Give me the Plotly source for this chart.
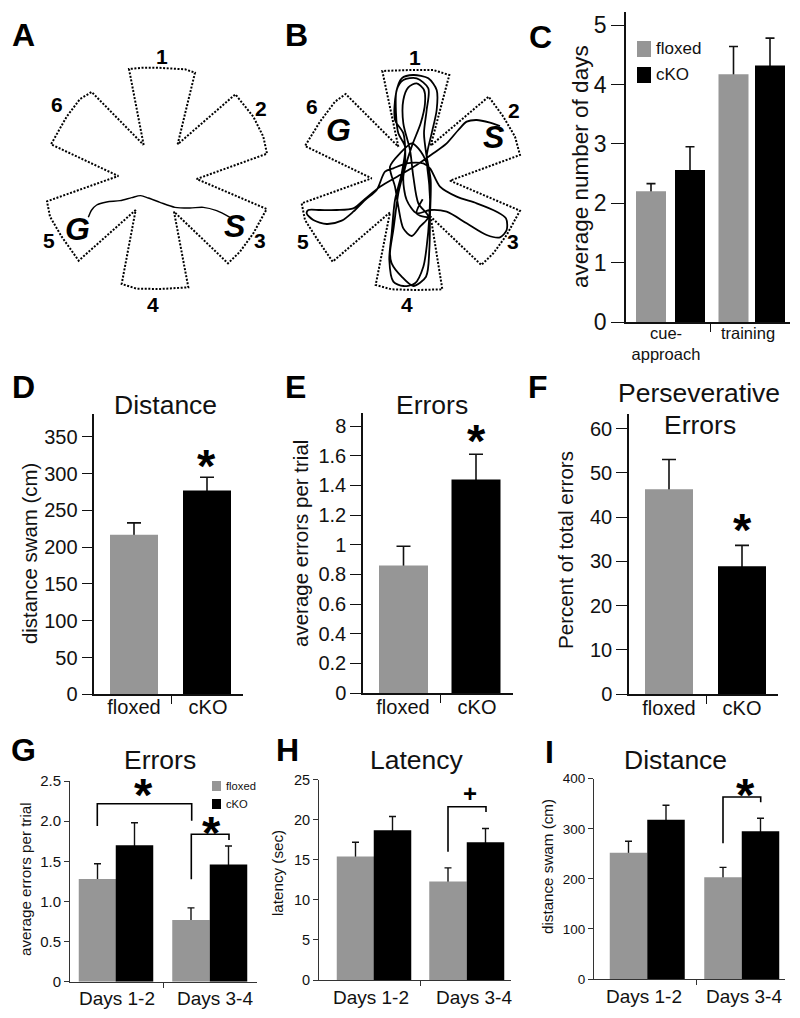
import plotly.graph_objects as go

W, H = 800, 1018
FONT = "Liberation Sans"
GREY = "#969696"
BLACK = "#000000"

# ---------- data: bar panels ----------
series_names = ["floxed", "cKO"]

c_labels = ["cue-<br>approach", "training"]
c_floxed = [2.20, 4.17]
c_floxed_top = [2.33, 4.64]
c_cko = [2.56, 4.32]
c_cko_top = [2.95, 4.78]
c_ticks = [0, 1, 2, 3, 4, 5]

d_labels = ["floxed", "cKO"]
d_values = [217, 277]
d_tops = [233, 295]
d_ticks = [0, 50, 100, 150, 200, 250, 300, 350]

e_labels = ["floxed", "cKO"]
e_values = [0.86, 1.44]
e_tops = [0.99, 1.61]
e_ticks = [0, 0.2, 0.4, 0.6, 0.8, 1.0, 1.2, 1.4, 1.6, 1.8]
e_ticktext = ["0", "0.2", "0.4", "0.6", "0.8", "1", "1.2", "1.4", "1.6", "8"]

f_labels = ["floxed", "cKO"]
f_values = [46.3, 28.9]
f_tops = [53.0, 33.6]
f_ticks = [0, 10, 20, 30, 40, 50, 60]

day_labels = ["Days 1-2", "Days 3-4"]
g_floxed = [1.28, 0.77]
g_floxed_top = [1.47, 0.92]
g_cko = [1.70, 1.46]
g_cko_top = [1.98, 1.69]
g_ticks = [0, 0.5, 1.0, 1.5, 2.0, 2.5]
g_ticktext = ["0", "0.5", "1.0", "1.5", "2.0", "2.5"]

h_floxed = [15.4, 12.3]
h_floxed_top = [17.2, 14.0]
h_cko = [18.7, 17.2]
h_cko_top = [20.4, 18.9]
h_ticks = [0, 5, 10, 15, 20, 25]

i_floxed = [252, 203]
i_floxed_top = [275, 223]
i_cko = [318, 295]
i_cko_top = [347, 321]
i_ticks = [0, 100, 200, 300, 400]

# ---------- data: maze outlines and swim paths (zoomed-crop readings) ----------
maze_a_x = [431,387,430,470,555,585,533,706,760,790,801,590,800,760,720,684,522,565,480,410,365,407,236,185,150,141,355,153,200,240,275,431]
maze_a_y = [435,207,203,203,208,218,433,283,350,410,461,537,627,700,755,790,635,862,867,866,852,630,782,710,650,604,528,433,350,297,276,435]
path_a_x = [265,275,290,320,360,395,422,445,480,525,570,610,650,690]
path_a_y = [652,630,615,606,602,593,587,594,607,622,624,622,632,652]

maze_b_x = [385,337,420,490,538,482,656,700,735,750,540,750,710,670,634,482,517,440,365,317,360,188,140,105,95,305,105,150,195,227,385]
maze_b_y = [440,213,210,210,225,437,290,350,410,465,542,632,705,760,795,650,868,870,868,855,637,785,715,660,610,535,438,365,305,282,440]
path_b_x = [690,660,620,590,565,530,490,440,390,330,285,250,200,150,115,110,130,170,215,250,285,320,345,370,410,460,480,510,560,620,680,708,710,690,650,590,530,480,440,410,400,425,452,465,462,440,415,400,400,420,430,445,475,450,425,400,385,375,360,390,425,445,470,480,478,470,460,435,400,370,358,365,375,395,405,385,378,380,400,440,475,470,462,470,482,480,478,468,430,395,365,360,370,385,405,400,375,378,395,430,475,500,500,485,470,478,476,440,458]
path_b_y = [378,368,360,365,390,430,460,495,525,560,597,625,630,630,630,640,660,672,662,635,600,570,515,505,490,490,505,560,590,610,635,655,690,712,705,670,635,630,640,600,530,440,370,310,270,250,262,300,370,450,530,610,650,680,708,685,620,560,500,460,430,445,490,560,650,740,800,850,858,845,780,700,600,520,440,400,340,270,240,235,265,330,400,470,540,650,750,830,858,830,790,760,690,580,490,400,360,280,235,225,235,270,330,400,470,560,650,640,598]

# ---------- layout configuration (pixel geometry of the page) ----------
panels = [
    dict(series=[(c_floxed, c_floxed_top, [651, 733.5]), (c_cko, c_cko_top, [690, 770])], bw=30, cap=4.5,
         left=626, right=790, bottom=322, top=12, ymax=5.22, ticks=c_ticks, text=None, labels=c_labels,
         label_x=[666, 748], mid=710, tlen=13, tfont=23, xfont=16.5, lw=1.5, color="#111", standoff=-5, mlen=8),
    dict(series=[(d_values[:1], d_tops[:1], [134]), (d_values[1:], d_tops[1:], [207])], bw=48, cap=7,
         left=94.3, right=243, bottom=694.3, top=414, ymax=381, ticks=d_ticks, text=None, labels=d_labels,
         label_x=[134, 208], mid=171, tlen=11, tfont=20, xfont=20, lw=1.5, color="#111", standoff=-6, mlen=8),
    dict(series=[(e_values[:1], e_tops[:1], [403.5]), (e_values[1:], e_tops[1:], [476])], bw=49, cap=7,
         left=363, right=513, bottom=693, top=412.7, ymax=1.89, ticks=e_ticks, text=e_ticktext, labels=e_labels,
         label_x=[403, 477], mid=440, tlen=11, tfont=20, xfont=20, lw=1.5, color="#111", standoff=-5, mlen=8),
    dict(series=[(f_values[:1], f_tops[:1], [669]), (f_values[1:], f_tops[1:], [742])], bw=48, cap=7,
         left=629, right=778, bottom=694, top=414, ymax=63.3, ticks=f_ticks, text=None, labels=f_labels,
         label_x=[669, 742], mid=706, tlen=11, tfont=20, xfont=20, lw=1.5, color="#111", standoff=-5, mlen=8),
    dict(series=[(g_floxed, g_floxed_top, [97.5, 191]), (g_cko, g_cko_top, [134.5, 228.5])], bw=37.5, cap=3.5,
         left=70, right=257, bottom=981.7, top=781, ymax=2.5, ticks=g_ticks, text=g_ticktext, labels=day_labels,
         label_x=[117, 215], mid=163, tlen=5, tfont=15, xfont=19, lw=1, color="#333", standoff=-1, mlen=5),
    dict(series=[(h_floxed, h_floxed_top, [355.5, 448]), (h_cko, h_cko_top, [392.5, 485.5])], bw=37.5, cap=3.5,
         left=319, right=511, bottom=980, top=779.7, ymax=25, ticks=h_ticks, text=None, labels=day_labels,
         label_x=[371, 474], mid=420, tlen=5, tfont=14.5, xfont=19, lw=1, color="#333", standoff=0, mlen=5),
    dict(series=[(i_floxed, i_floxed_top, [628.5, 723]), (i_cko, i_cko_top, [666, 760.5])], bw=37.5, cap=3.5,
         left=594, right=785, bottom=979, top=778.7, ymax=400, ticks=i_ticks, text=None, labels=day_labels,
         label_x=[644, 744], mid=696, tlen=5, tfont=13.5, xfont=19, lw=1, color="#333", standoff=0, mlen=5),
]

fig = go.Figure()

def zoom(vals, off, k=3.0):
    return [off + v / k for v in vals]

def page_line(xs, ys, width=1.5, dash="solid", spline=False):
    fig.add_trace(go.Scatter(x=xs, y=ys, mode="lines", showlegend=False, hoverinfo="skip",
                             line=dict(color="black", width=width, dash=dash,
                                       shape="spline" if spline else "linear", smoothing=0.8)))

DOT = "2px,1.6px"
page_line(zoom(maze_a_x, 0), zoom(maze_a_y, 0), 2, DOT)
page_line(zoom(path_a_x, 0), zoom(path_a_y, 0), 1.4, spline=True)
page_line(zoom(maze_b_x, 270), zoom(maze_b_y, 0), 2, DOT)
page_line(zoom(path_b_x, 270), zoom(path_b_y, 0), 1.8, spline=True)

brackets = [
    ([97.3, 97.3, 191.7, 191.7], [826, 803.7, 803.7, 820.7]),
    ([191.3, 191.3, 229, 229], [879.3, 834.3, 834.3, 840]),
    ([448, 448, 486, 486], [851.7, 806.7, 806.7, 812]),
    ([723, 723, 760.7, 760.7], [843.3, 797, 797, 802.3]),
]
for bx, by in brackets:
    page_line(bx, by, 1.6)

layout = dict(
    width=W, height=H, margin=dict(l=0, r=0, t=0, b=0), autosize=False,
    paper_bgcolor="white", plot_bgcolor="rgba(0,0,0,0)", barmode="overlay", showlegend=False,
    font=dict(family=FONT, color="#111"),
    xaxis=dict(domain=[0, 1], range=[0, W], visible=False, fixedrange=True, automargin=False),
    yaxis=dict(domain=[0, 1], range=[H, 0], visible=False, fixedrange=True, automargin=False),
)

colors = [GREY, BLACK]
for n, p in enumerate(panels, start=2):
    xname, yname = f"x{n}", f"y{n}"
    dip = p["ymax"] * 0.02
    for (vals, tops, centers), color, name in zip(p["series"], colors, series_names):
        # error whiskers belong to an unfilled bar underneath, so only the upper cap shows
        fig.add_trace(go.Bar(
            x=centers, y=vals, width=p["bw"], name=name + " sem", xaxis=xname, yaxis=yname,
            marker=dict(color="rgba(0,0,0,0)", line=dict(width=0)), showlegend=False, hoverinfo="skip",
            error_y=dict(type="data", symmetric=False,
                         array=[t - v for t, v in zip(tops, vals)], arrayminus=[dip] * len(vals),
                         color="#111", thickness=1.6 if p["lw"] > 1 else 1.4, width=p["cap"]),
        ))
        fig.add_trace(go.Bar(
            x=centers, y=vals, width=p["bw"], name=name, xaxis=xname, yaxis=yname,
            marker=dict(color=color, line=dict(width=0)), showlegend=False,
        ))
    layout[f"xaxis{n}"] = dict(
        domain=[p["left"] / W, p["right"] / W], range=[p["left"], p["right"]], anchor=yname,
        showgrid=False, zeroline=False, showline=True, linecolor=p["color"], linewidth=p["lw"],
        tickmode="array", tickvals=p["label_x"], ticktext=p["labels"], ticks="", automargin=False,
        ticklabelstandoff=p["standoff"], tickfont=dict(family=FONT, size=p["xfont"], color="#111"),
        minor=dict(tickmode="array", tickvals=[p["mid"]], ticks="outside", ticklen=p["mlen"],
                   tickcolor=p["color"], tickwidth=1),
        fixedrange=True,
    )
    layout[f"yaxis{n}"] = dict(
        domain=[1 - p["bottom"] / H, 1 - p["top"] / H], range=[0, p["ymax"]], anchor=xname,
        showgrid=False, zeroline=False, showline=True, linecolor=p["color"], linewidth=p["lw"],
        tickmode="array", tickvals=p["ticks"], ticktext=p["text"] if p["text"] else [str(t) for t in p["ticks"]],
        ticks="outside", ticklen=p["tlen"], tickcolor=p["color"], tickwidth=1.2 if p["lw"] > 1 else 1,
        tickfont=dict(family=FONT, size=p["tfont"], color="#111"), fixedrange=True, automargin=False,
    )

annotations = []
def label(text, x, y, size, bold=False, italic=False, angle=0, anchor="center", color="#111"):
    t = text
    if bold:
        t = f"<b>{t}</b>"
    if italic:
        t = f"<i>{t}</i>"
    annotations.append(dict(text=t, x=x / W, y=1 - y / H, xref="paper", yref="paper", showarrow=False,
                            xanchor=anchor, yanchor="middle", textangle=angle,
                            font=dict(family=FONT, size=size, color=color)))

# panel letters
for letter, x, y in [("A", 23, 35), ("B", 296, 35), ("C", 540, 37), ("D", 23, 387), ("E", 295, 387),
                     ("F", 538, 387), ("G", 23, 750), ("H", 287, 750), ("I", 549, 752)]:
    label(letter, x, y, 32, bold=True, color="black")

# maze labels
for t, x, y in [("1", 162, 57), ("2", 261, 108), ("3", 260, 240), ("4", 153, 304), ("5", 49, 240), ("6", 57, 105)]:
    label(t, x, y, 21, bold=True, color="black")
for t, x, y in [("1", 415, 58), ("2", 514, 110), ("3", 513, 241), ("4", 407, 304), ("5", 303, 241), ("6", 312, 107)]:
    label(t, x, y, 21, bold=True, color="black")
label("G", 77, 229, 32, bold=True, italic=True, color="black")
label("S", 235, 226, 32, bold=True, italic=True, color="black")
label("G", 338, 130, 32, bold=True, italic=True, color="black")
label("S", 494, 137, 32, bold=True, italic=True, color="black")

# chart titles
label("Distance", 165, 405, 26.5)
label("Errors", 432, 405, 26.5)
label("Perseverative", 699, 393, 26.5)
label("Errors", 700, 425, 26.5)
label("Errors", 160, 760, 26.5)
label("Latency", 417, 760, 26.5)
label("Distance", 675, 760, 26.5)

# y axis titles
label("average number of days", 580, 167, 22.5, angle=-90)
label("distance swam (cm)", 30, 554, 20.4, angle=-90)
label("average errors per trial", 300, 544, 20.5, angle=-90)
label("Percent of total errors", 565, 550, 20.6, angle=-90)
label("average errors per trial", 25, 879, 15.2, angle=-90)
label("latency (sec)", 277, 873, 15.2, angle=-90)
label("distance swam (cm)", 547, 867, 15.2, angle=-90)

# significance marks
for x, y in [(207, 465), (477, 440), (742, 529), (143, 794), (211, 832), (745, 794)]:
    label("*", x, y, 47, bold=True, color="black")
label("+", 470, 793, 24, bold=True, color="black")

# hand-placed keys
keys = [
    (637, 651, 41, 57, 654, 49, 17, GREY, "floxed"),
    (637, 651, 67, 83, 654, 75, 17, BLACK, "cKO"),
    (212, 221, 781, 791, 224, 786, 11.2, GREY, "floxed"),
    (212, 221, 799, 809, 224, 804, 11.2, BLACK, "cKO"),
]
shapes = []
for x0, x1, y0, y1, tx, ty, size, color, name in keys:
    shapes.append(dict(type="rect", xref="paper", yref="paper", x0=x0 / W, x1=x1 / W,
                       y0=1 - y1 / H, y1=1 - y0 / H, fillcolor=color, line=dict(width=0)))
    label(name, tx, ty, size, anchor="left")

layout["annotations"] = annotations
layout["shapes"] = shapes
fig.update_layout(**layout)
fig.write_html("out.html", config=dict(displayModeBar=False),
               post_script="document.body.style.margin='0';")
